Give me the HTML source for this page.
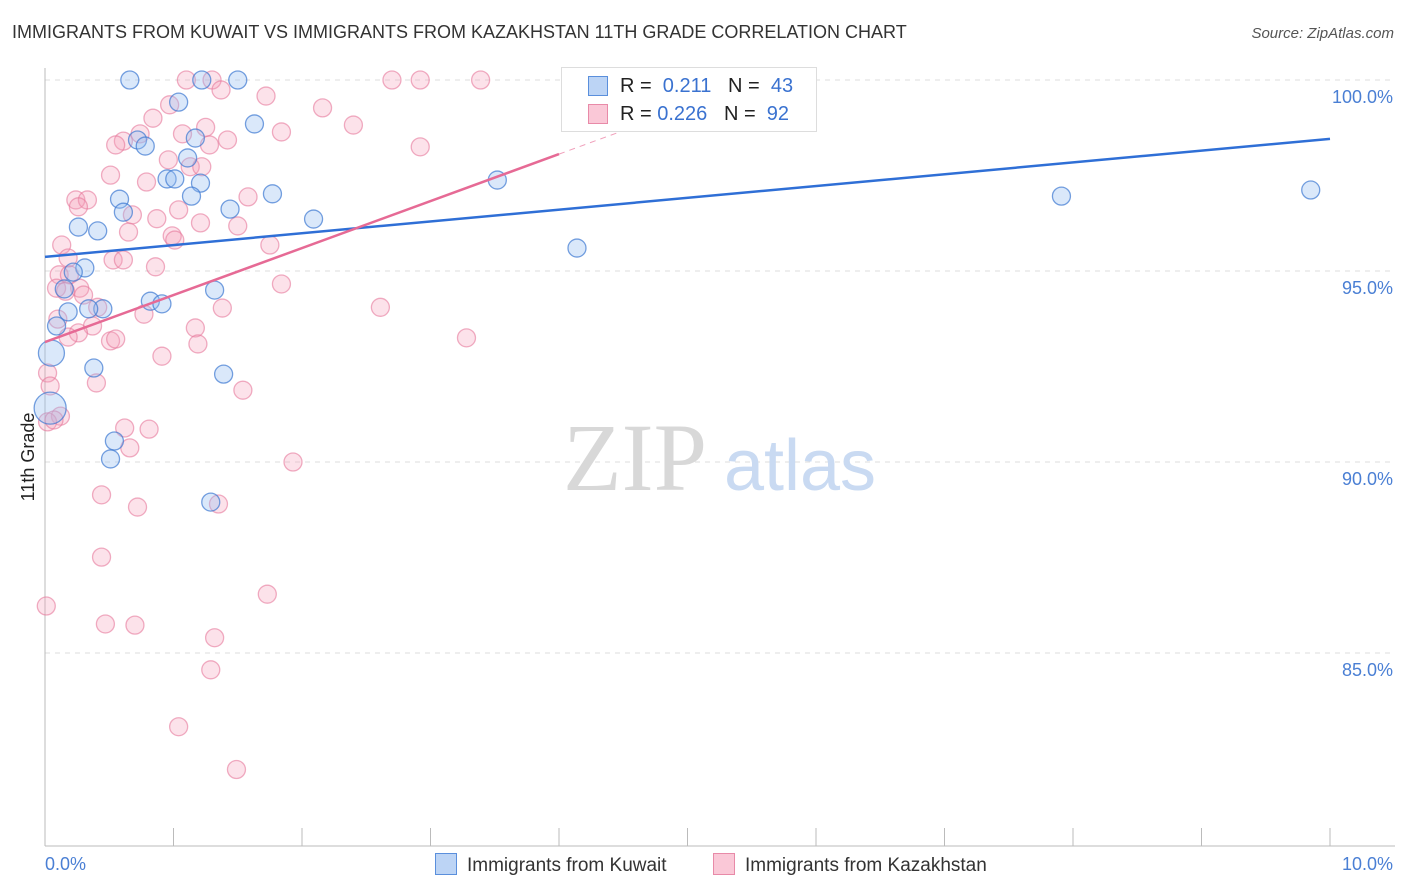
<!DOCTYPE html>
<html><head><meta charset="utf-8"><style>
body{margin:0;background:#fff;font-family:"Liberation Sans",sans-serif;}
#wrap{position:relative;width:1406px;height:892px;overflow:hidden;}
.t{position:absolute;white-space:nowrap;}
</style></head><body>
<div id="wrap">
<div class="t" style="left:12px;top:22px;font-size:18px;color:#333;">IMMIGRANTS FROM KUWAIT VS IMMIGRANTS FROM KAZAKHSTAN 11TH GRADE CORRELATION CHART</div>
<div class="t" style="right:12px;top:25px;font-size:15px;color:#555;font-style:italic;">Source: ZipAtlas.com</div>
<svg id="plot" width="1406" height="892" style="position:absolute;left:0;top:0"></svg>
</div>
<script>
const xTicks=[0,1,2,3,4,5,6,7,8,9,10];
const yTicks=[85,90,95,100];
const yTickLabels=["85.0%","90.0%","95.0%","100.0%"];
const kuwaitX=[0.66,1.22,1.5,1.04,1.63,0.72,1.17,0.78,1.11,0.95,1.01,1.21,1.77,1.14,0.58,0.61,1.44,2.09,0.26,0.41,0.31,0.22,0.15,1.32,0.82,0.91,0.45,0.34,0.18,0.09,0.05,0.38,1.39,0.54,0.51,1.29,0.04,3.52,4.14,7.91,9.85];
const kuwaitY=[100,100,100,99.42,98.85,98.43,98.48,98.27,97.96,97.41,97.41,97.3,97.02,96.96,96.88,96.54,96.62,96.36,96.15,96.05,95.08,94.97,94.53,94.5,94.21,94.14,94.01,94.01,93.93,93.56,92.85,92.46,92.3,90.55,90.08,88.95,91.41,97.38,95.6,96.96,97.12];
const kuwaitR=[9,9,9,9,9,9,9,9,9,9,9,9,9,9,9,9,9,9,9,9,9,9,9,9,9,9,9,9,9,9,13,9,9,9,9,9,16,9,9,9,9];
const kazX=[1.1,1.3,2.7,2.92,3.39,1.37,1.72,0.97,2.16,0.84,1.25,1.07,0.74,0.61,0.55,1.42,1.84,2.4,1.28,2.92,0.96,1.13,1.22,0.51,0.79,1.04,1.58,0.24,0.33,0.26,0.68,0.87,1.21,0.65,1.5,0.99,1.01,0.13,1.75,0.18,0.53,0.61,0.86,0.11,0.19,1.84,0.09,0.27,0.3,0.16,0.41,1.38,2.61,0.77,0.1,0.37,1.17,0.26,0.18,0.51,0.55,1.19,3.28,0.91,0.02,0.04,0.4,1.54,0.12,0.02,0.07,0.62,0.81,0.66,1.93,0.44,1.35,0.72,0.44,1.73,0.47,0.7,0.01,1.32,1.29,1.04,1.49];
const kazY=[100,100,100,100,100,99.74,99.58,99.35,99.27,99.0,98.76,98.59,98.59,98.4,98.3,98.43,98.64,98.82,98.3,98.25,97.91,97.73,97.73,97.51,97.33,96.6,96.94,96.86,96.86,96.68,96.47,96.37,96.26,96.02,96.18,95.92,95.81,95.68,95.68,95.34,95.29,95.29,95.11,94.9,94.9,94.66,94.55,94.55,94.37,94.47,94.05,94.03,94.05,93.87,93.74,93.56,93.51,93.38,93.27,93.17,93.22,93.09,93.25,92.77,92.33,91.99,92.07,91.88,91.2,91.05,91.1,90.89,90.86,90.37,90.0,89.14,88.9,88.82,87.51,86.54,85.76,85.73,86.23,85.4,84.56,83.07,81.95];
const trendKuwait=[95.37,98.46];
const trendKaz=[93.14,98.06];
const NS="http://www.w3.org/2000/svg";
const svg=document.getElementById('plot');
const X0=45,X1=1330,Y100=80,PPY=38.2;
function sx(v){return X0+(v/10)*(X1-X0);}
function sy(v){return Y100+(100-v)*PPY;}
function mk(tag,attrs){const e=document.createElementNS(NS,tag);for(const k in attrs)e.setAttribute(k,attrs[k]);svg.appendChild(e);return e;}
// gridlines
yTicks.forEach((v,i)=>{
 const g=mk('line',{x1:X0,x2:1395,y1:sy(v),y2:sy(v),stroke:'#ddd','stroke-dasharray':'5,5'});
 
 
 const t=mk('text',{x:1393,y:sy(v)+23,'text-anchor':'end','font-size':18,fill:'#4a7fd4','font-family':'Liberation Sans, sans-serif'});
 t.textContent=yTickLabels[i];
 
 
});
const ax=mk('line',{x1:X0,x2:X0,y1:68,y2:846,stroke:'#bbb'});


const bx=mk('line',{x1:X0,x2:1395,y1:846,y2:846,stroke:'#bbb'});


xTicks.forEach(v=>{
 const l=mk('line',{x1:sx(v),x2:sx(v),y1:828,y2:846,stroke:'#bbb'});
 
 
});
[[0,'0.0%','start'],[10,'10.0%','end']].forEach(a=>{
 const t=mk('text',{x:sx(a[0])+(a[0]?63:0),y:870,'text-anchor':a[2],'font-size':18,fill:'#4a7fd4','font-family':'Liberation Sans, sans-serif'});
 t.textContent=a[1];
 
 
});
const yt=mk('text',{x:34,y:457,transform:'rotate(-90 34 457)','text-anchor':'middle','font-size':18,fill:'#222','font-family':'Liberation Sans, sans-serif'});
yt.textContent='11th Grade';


// watermark
const w1=mk('text',{x:635,y:490,'text-anchor':'middle','font-size':96,fill:'#d8d8d8','font-family':'Liberation Serif, serif'});
w1.textContent='ZIP';


const w2=mk('text',{x:800,y:490,'text-anchor':'middle','font-size':72,fill:'#c9daf2','font-family':'Liberation Sans, sans-serif'});
w2.textContent='atlas';


kazX.forEach((x,i)=>{
 const c=mk('circle',{cx:sx(x),cy:sy(kazY[i]),r:9,fill:'rgba(244,160,185,0.3)',stroke:'rgba(230,120,155,0.6)','stroke-width':1.3});
 
 
});
kuwaitX.forEach((x,i)=>{
 const c=mk('circle',{cx:sx(x),cy:sy(kuwaitY[i]),r:kuwaitR[i],fill:'rgba(150,190,240,0.35)',stroke:'rgba(60,120,210,0.7)','stroke-width':1.3});
 
 
});
const tk=mk('line',{x1:sx(0),y1:sy(trendKuwait[0]),x2:sx(10),y2:sy(trendKuwait[1]),stroke:'#2f6fd6','stroke-width':2.5});


const tz=mk('line',{x1:sx(0),y1:sy(trendKaz[0]),x2:sx(4),y2:sy(trendKaz[1]),stroke:'#e66a95','stroke-width':2.5});


const slope=(trendKaz[1]-trendKaz[0])/4;
const td=mk('line',{x1:sx(4),y1:sy(trendKaz[1]),x2:sx(4.7),y2:sy(trendKaz[0]+slope*4.7),stroke:'#f0a0bb','stroke-width':1,'stroke-dasharray':'6,5'});


</script>
<div class="t" style="left:561px;top:67px;width:254px;height:63px;border:1px solid #ddd;background:#fff;font-size:20px;">
 <div style="position:absolute;left:26px;top:8px;width:18px;height:18px;background:#bcd4f5;border:1px solid #5a8fdc;"></div>
 <div class="t" style="left:58px;top:7px;color:#222;">R = &nbsp;<span style="color:#3a72d0">0.211</span>&nbsp;&nbsp;&nbsp;N = &nbsp;<span style="color:#3a72d0">43</span></div>
 <div style="position:absolute;left:26px;top:36px;width:18px;height:18px;background:#fac8d7;border:1px solid #e88aa8;"></div>
 <div class="t" style="left:58px;top:35px;color:#222;">R = <span style="color:#3a72d0">0.226</span>&nbsp;&nbsp;&nbsp;N = &nbsp;<span style="color:#3a72d0">92</span></div>
</div>
<div class="t" style="left:435px;top:853px;font-size:19px;color:#333;"><span style="display:inline-block;width:20px;height:20px;background:#bcd4f5;border:1px solid #5a8fdc;vertical-align:-4px;margin-right:10px;"></span>Immigrants from Kuwait</div>
<div class="t" style="left:713px;top:853px;font-size:19px;color:#333;"><span style="display:inline-block;width:20px;height:20px;background:#fac8d7;border:1px solid #e88aa8;vertical-align:-4px;margin-right:10px;"></span>Immigrants from Kazakhstan</div>
</body></html>
